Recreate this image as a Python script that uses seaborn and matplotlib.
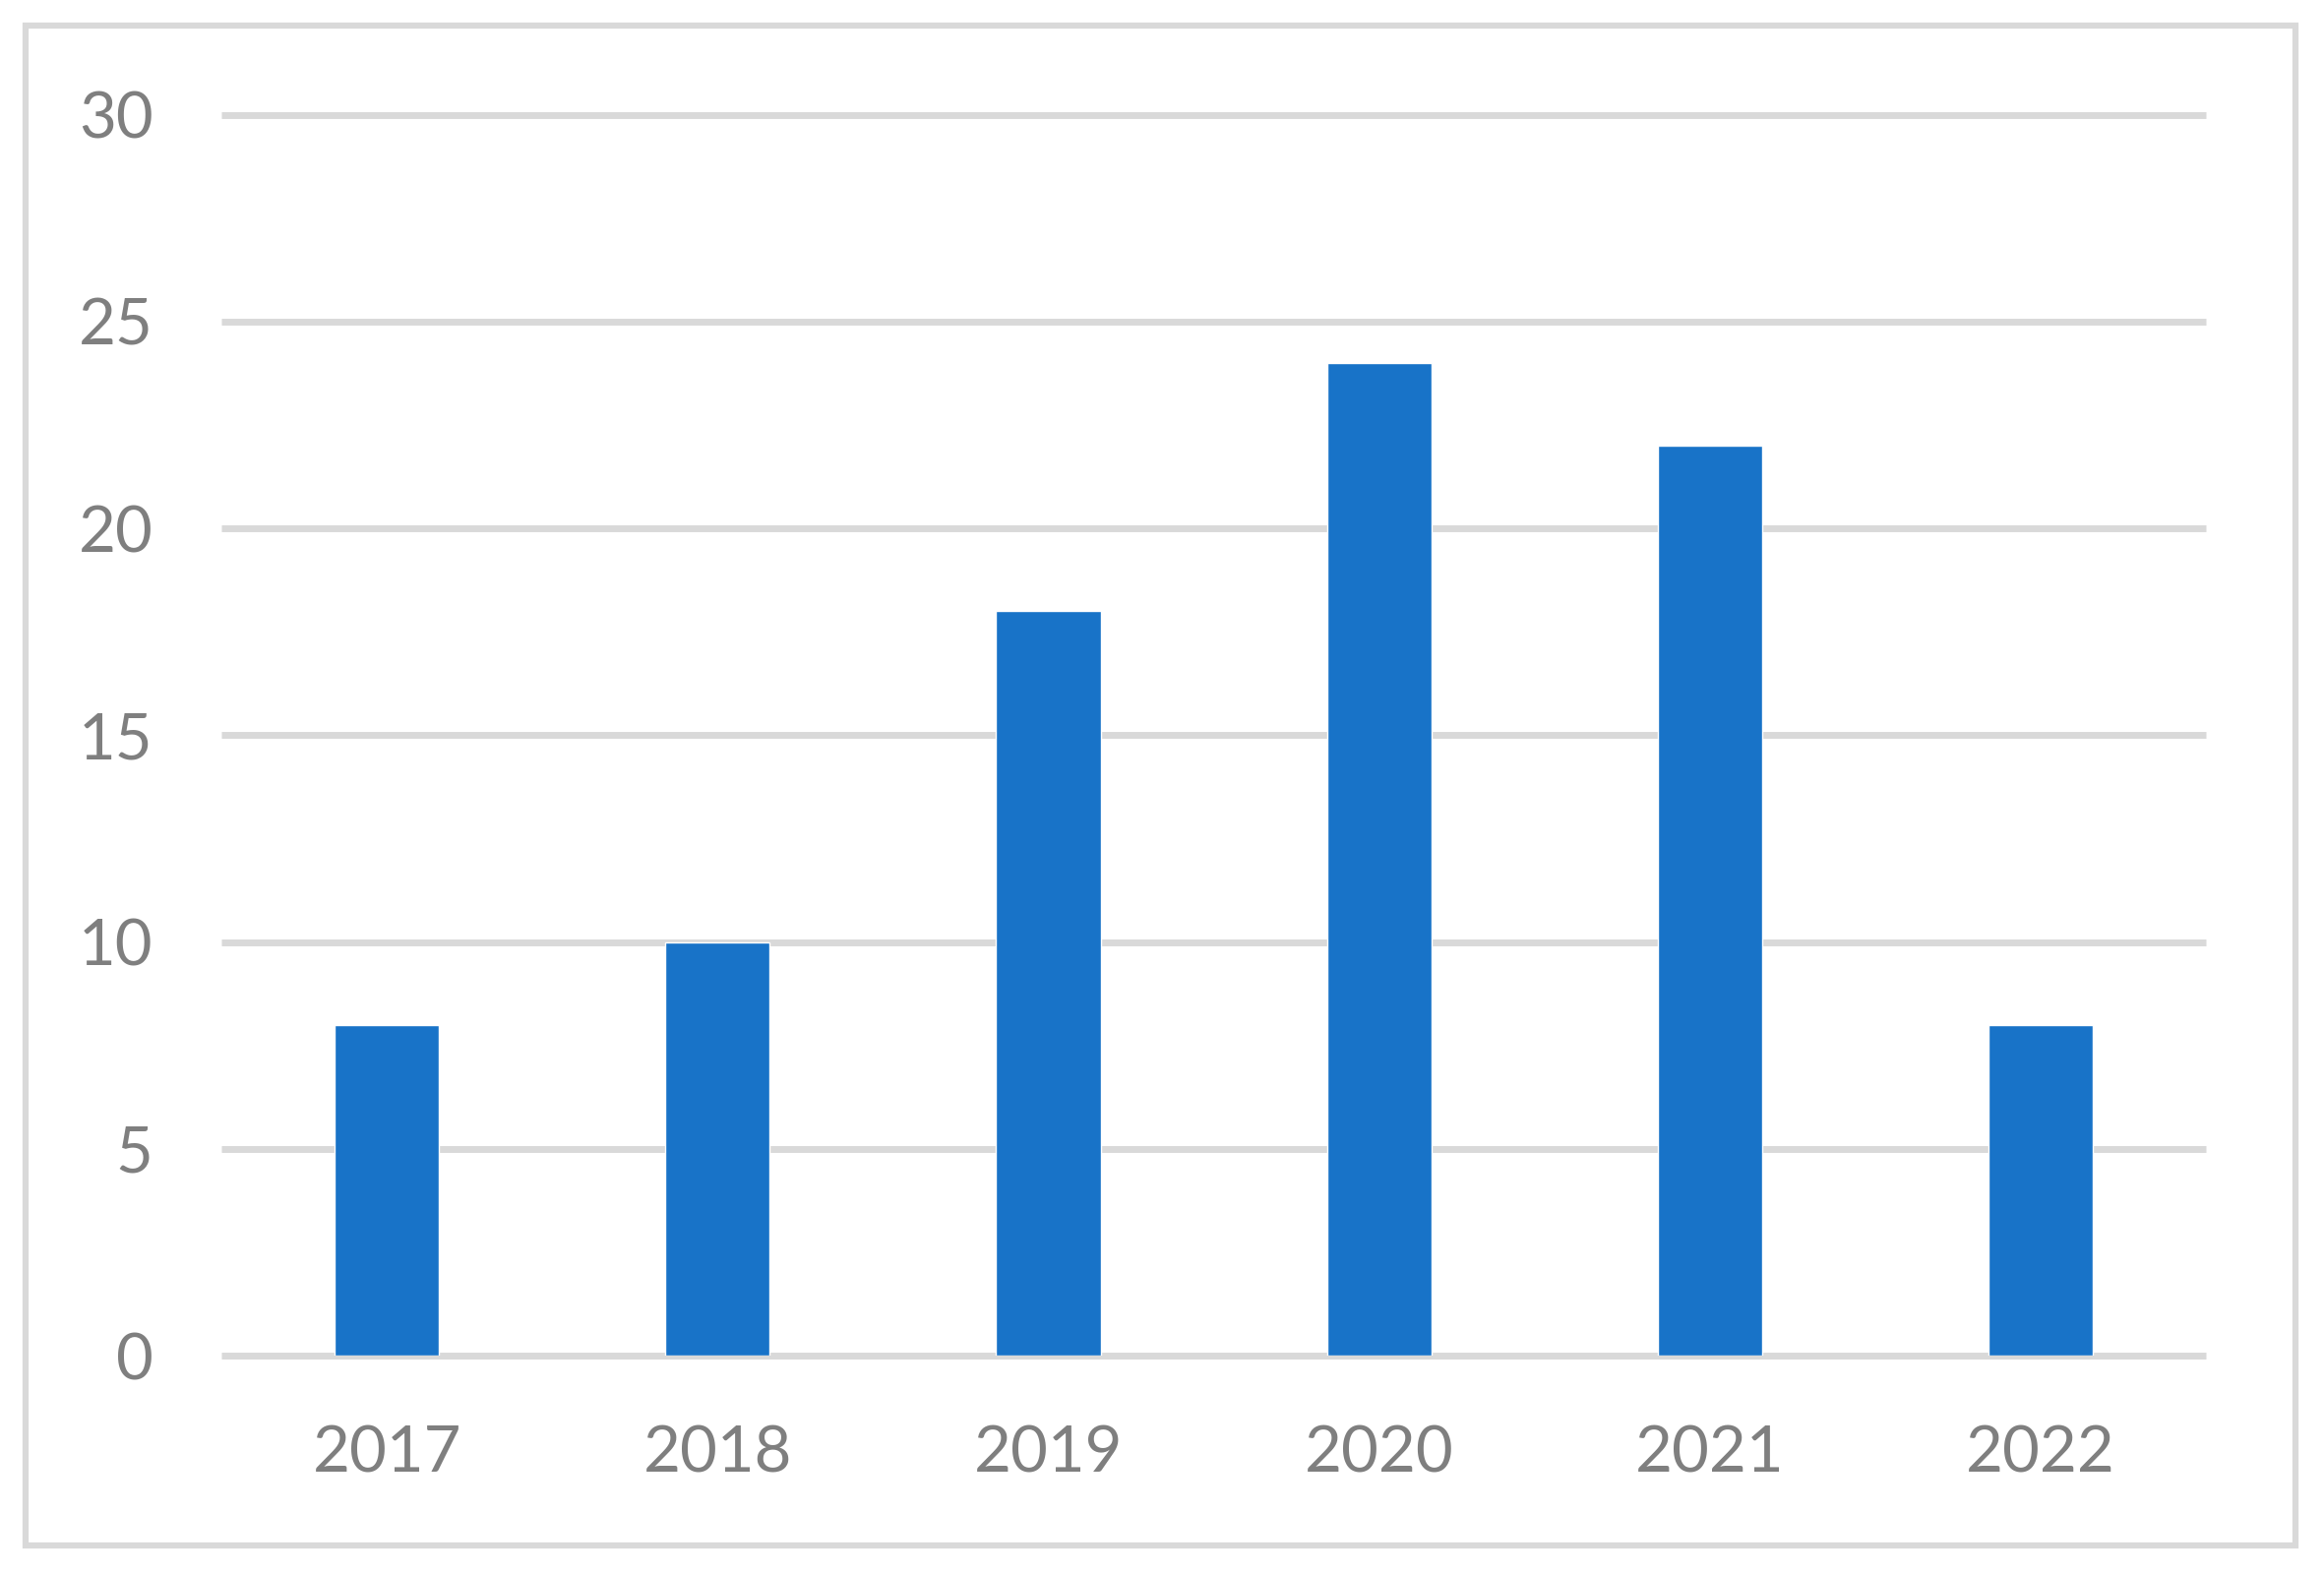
import pandas as pd
import matplotlib.pyplot as plt
import matplotlib.patches as patches
import seaborn as sns

sns.set_style("white")
plt.rcParams['font.family'] = ['Lato', 'DejaVu Sans']

# -----------------------------
# Data
# -----------------------------
years = ["2017", "2018", "2019", "2020", "2021", "2022"]
counts = [8, 10, 18, 24, 22, 8]

data = pd.DataFrame({"Year": years, "Count": counts})

bar_color = "#1873C8"
grid_color = "#D9D9D9"
text_color = "#7F7F7F"

# -----------------------------
# Figure
# -----------------------------
fig = plt.figure(figsize=(23.62, 15.99), dpi=100)
ax = fig.add_axes([0.0953, 0.1382, 0.8539, 0.7889])

sns.barplot(x="Year", y="Count", data=data, color=bar_color, width=0.316,
            saturation=1, ax=ax, zorder=3)

ax.set_ylim(0, 30)
ax.set_yticks([0, 5, 10, 15, 20, 25, 30])
ax.set_xlim(-0.5, len(years) - 0.5)
ax.yaxis.grid(True, color=grid_color, linewidth=5, zorder=0)
for gl in ax.get_ygridlines():
    gl.set_clip_on(False)
    gl.set_solid_capstyle("butt")
ax.set_axisbelow(True)
for s in ax.spines.values():
    s.set_visible(False)

ax.set_xlabel("")
ax.set_ylabel("")
ax.tick_params(axis="y", length=0, pad=50, labelsize=47, labelcolor=text_color)
ax.tick_params(axis="x", length=0, pad=51, labelsize=47, labelcolor=text_color)

# outer chart border
fig.patches.append(patches.Rectangle((26 / 2362, 1 - 1571 / 1599),
                                     (2333 - 26) / 2362, (1571 - 26) / 1599,
                                     transform=fig.transFigure, fill=False,
                                     edgecolor=grid_color, linewidth=4.5))

fig.savefig("out.png", dpi=100, facecolor="white")
